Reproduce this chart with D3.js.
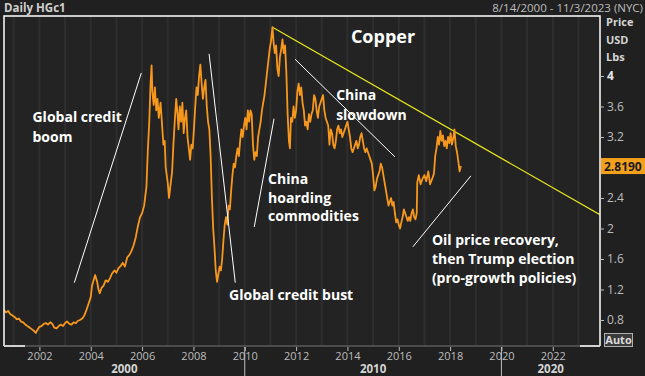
<!DOCTYPE html>
<html>
<head>
<meta charset="utf-8">
<script src="https://cdn.jsdelivr.net/npm/d3@7"></script>
<style>
  html, body { margin: 0; padding: 0; background: #202020; }
  svg { display: block; }
</style>
</head>
<body>
<svg id="chart"></svg>
<script>
// Copper front-month, decimal year -> USD / lb
const years = [
  2000.62, 2000.70, 2000.78, 2000.86, 2000.95, 2001.03, 2001.12, 2001.20, 2001.28, 2001.37,
  2001.45, 2001.53, 2001.62, 2001.70, 2001.78, 2001.86, 2001.92, 2002.00, 2002.08, 2002.17,
  2002.25, 2002.33, 2002.42, 2002.50, 2002.58, 2002.67, 2002.75, 2002.83, 2002.92, 2003.00,
  2003.08, 2003.17, 2003.25, 2003.33, 2003.42, 2003.50, 2003.58, 2003.67, 2003.75, 2003.83,
  2003.92, 2004.00, 2004.05, 2004.12, 2004.17, 2004.25, 2004.30, 2004.35, 2004.42, 2004.50,
  2004.58, 2004.67, 2004.75, 2004.83, 2004.92, 2005.00, 2005.08, 2005.17, 2005.25, 2005.33,
  2005.42, 2005.50, 2005.58, 2005.67, 2005.75, 2005.83, 2005.92, 2006.00, 2006.08, 2006.17,
  2006.22, 2006.28, 2006.33, 2006.37, 2006.40, 2006.45, 2006.50, 2006.55, 2006.60, 2006.65,
  2006.72, 2006.78, 2006.83, 2006.88, 2006.92, 2007.00, 2007.05, 2007.10, 2007.17, 2007.22,
  2007.28, 2007.33, 2007.38, 2007.42, 2007.47, 2007.52, 2007.57, 2007.62, 2007.67, 2007.72,
  2007.77, 2007.82, 2007.87, 2007.92, 2007.97, 2008.02, 2008.07, 2008.12, 2008.17, 2008.22,
  2008.27, 2008.32, 2008.37, 2008.42, 2008.47, 2008.52, 2008.57, 2008.62, 2008.67, 2008.72,
  2008.77, 2008.82, 2008.87, 2008.92, 2008.97, 2009.02, 2009.07, 2009.12, 2009.17, 2009.22,
  2009.27, 2009.32, 2009.37, 2009.42, 2009.47, 2009.52, 2009.57, 2009.62, 2009.67, 2009.72,
  2009.77, 2009.82, 2009.87, 2009.92, 2009.97, 2010.02, 2010.07, 2010.12, 2010.17, 2010.22,
  2010.27, 2010.32, 2010.37, 2010.42, 2010.47, 2010.52, 2010.57, 2010.62, 2010.67, 2010.72,
  2010.77, 2010.82, 2010.87, 2010.92, 2010.97, 2011.02, 2011.08, 2011.12, 2011.17, 2011.22,
  2011.27, 2011.32, 2011.37, 2011.42, 2011.47, 2011.52, 2011.57, 2011.62, 2011.67, 2011.72,
  2011.76, 2011.80, 2011.85, 2011.90, 2011.95, 2012.00, 2012.05, 2012.10, 2012.15, 2012.20,
  2012.25, 2012.30, 2012.35, 2012.40, 2012.45, 2012.50, 2012.55, 2012.60, 2012.65, 2012.70,
  2012.75, 2012.80, 2012.85, 2012.90, 2012.95, 2013.00, 2013.05, 2013.10, 2013.15, 2013.20,
  2013.25, 2013.30, 2013.35, 2013.40, 2013.45, 2013.50, 2013.55, 2013.60, 2013.65, 2013.70,
  2013.75, 2013.80, 2013.85, 2013.90, 2013.95, 2014.00, 2014.05, 2014.10, 2014.15, 2014.20,
  2014.25, 2014.30, 2014.35, 2014.40, 2014.45, 2014.50, 2014.55, 2014.60, 2014.65, 2014.70,
  2014.75, 2014.80, 2014.85, 2014.90, 2014.95, 2015.00, 2015.05, 2015.10, 2015.15, 2015.20,
  2015.25, 2015.30, 2015.35, 2015.40, 2015.45, 2015.50, 2015.55, 2015.60, 2015.65, 2015.70,
  2015.75, 2015.80, 2015.85, 2015.90, 2015.95, 2016.00, 2016.05, 2016.10, 2016.15, 2016.20,
  2016.25, 2016.30, 2016.35, 2016.40, 2016.45, 2016.50, 2016.55, 2016.60, 2016.65, 2016.70,
  2016.72, 2016.78, 2016.85, 2016.92, 2017.00, 2017.07, 2017.15, 2017.22, 2017.30, 2017.37,
  2017.42, 2017.47, 2017.52, 2017.57, 2017.62, 2017.67, 2017.72, 2017.77, 2017.82, 2017.87,
  2017.92, 2017.97, 2018.02, 2018.07, 2018.12, 2018.17, 2018.22, 2018.27, 2018.32, 2018.37,
  2018.42
];
const prices = [
  0.93, 0.90, 0.92, 0.88, 0.86, 0.84, 0.81, 0.82, 0.78, 0.77,
  0.74, 0.72, 0.70, 0.68, 0.66, 0.63, 0.67, 0.71, 0.72, 0.75,
  0.76, 0.74, 0.77, 0.75, 0.70, 0.69, 0.72, 0.74, 0.72, 0.76,
  0.78, 0.75, 0.74, 0.77, 0.76, 0.79, 0.80, 0.82, 0.86, 0.93,
  1.02, 1.10, 1.25, 1.33, 1.39, 1.30, 1.20, 1.15, 1.22, 1.25,
  1.32, 1.30, 1.35, 1.41, 1.45, 1.42, 1.48, 1.51, 1.55, 1.50,
  1.62, 1.65, 1.70, 1.78, 1.88, 2.02, 2.15, 2.20, 2.30, 2.55,
  3.00, 3.40, 3.90, 4.14, 3.80, 3.62, 3.85, 3.55, 3.70, 3.45,
  3.65, 3.35, 3.10, 3.15, 2.80, 2.60, 2.40, 2.55, 2.75, 3.10,
  3.45, 3.70, 3.50, 3.30, 3.60, 3.40, 3.65, 3.25, 3.45, 3.55,
  3.20, 3.05, 2.90, 3.10, 3.05, 3.30, 3.60, 3.85, 3.75, 4.00,
  4.15, 3.90, 3.70, 3.85, 3.95, 3.60, 3.40, 3.30, 2.95, 2.40,
  2.00, 1.75, 1.45, 1.30, 1.40, 1.50, 1.45, 1.60, 1.85, 2.05,
  2.15, 2.05, 2.30, 2.25, 2.50, 2.70, 2.85, 2.80, 2.95, 3.05,
  2.95, 3.15, 3.30, 3.20, 3.35, 3.45, 3.30, 3.55, 3.40, 3.55,
  3.50, 3.10, 2.90, 3.00, 2.95, 3.20, 3.30, 3.40, 3.55, 3.65,
  3.75, 3.90, 4.05, 4.20, 4.35, 4.45, 4.64, 4.45, 4.30, 4.40,
  4.10, 4.00, 4.25, 4.35, 4.48, 4.30, 4.40, 4.05, 3.50, 3.15,
  3.05, 3.45, 3.40, 3.60, 3.45, 3.55, 3.80, 3.90, 3.75, 3.85,
  3.65, 3.55, 3.35, 3.40, 3.30, 3.50, 3.40, 3.50, 3.55, 3.75,
  3.70, 3.55, 3.45, 3.60, 3.65, 3.70, 3.75, 3.55, 3.45, 3.40,
  3.35, 3.10, 3.30, 3.25, 3.10, 3.05, 3.15, 3.30, 3.35, 3.25,
  3.30, 3.20, 3.25, 3.30, 3.35, 3.40, 3.30, 3.20, 3.05, 3.00,
  3.05, 3.10, 3.15, 3.05, 3.10, 3.20, 3.25, 3.15, 3.05, 3.00,
  3.05, 3.00, 2.95, 2.90, 2.85, 2.70, 2.50, 2.55, 2.65, 2.70,
  2.75, 2.85, 2.80, 2.70, 2.60, 2.50, 2.40, 2.30, 2.35, 2.40,
  2.30, 2.35, 2.20, 2.08, 2.12, 2.05, 2.00, 2.08, 2.15, 2.25,
  2.20, 2.15, 2.10, 2.15, 2.10, 2.20, 2.25, 2.15, 2.12, 2.20,
  2.60, 2.70, 2.58, 2.65, 2.70, 2.62, 2.75, 2.58, 2.65, 2.72,
  2.95, 3.05, 3.20, 3.10, 3.28, 3.15, 3.22, 3.08, 3.15, 3.05,
  3.20, 3.12, 3.25, 3.10, 3.18, 3.30, 3.08, 3.00, 2.88, 2.75,
  2.82
];
const lastPrice = '2.8190';

// Axis ticks
const priceTicks = [0.8, 1.2, 1.6, 2, 2.4, 3.2, 3.6, 4];
const yearTicks = [2002, 2004, 2006, 2008, 2010, 2012, 2014, 2016, 2018, 2020, 2022];
const gridYears = d3.range(2001, 2024);
const decades = [
  { label: '2000', from: 2000.62, to: 2010 },
  { label: '2010', from: 2010, to: 2020 },
  { label: '2020', from: 2020, to: 2023.84 }
];

// Resistance line (yellow)
const trendYears = [2011.08, 2023.84];
const trendPrices = [4.64, 2.18];

// Annotation pointers (white), in year / price
const pointers = [
  [[2003.36, 1.29], [2005.97, 4.04]],
  [[2008.61, 4.29], [2009.63, 1.29]],
  [[2010.37, 2.02], [2011.14, 3.44]],
  [[2011.96, 4.22], [2015.85, 2.94]],
  [[2016.55, 1.76], [2018.81, 2.69]]
];
const notes = [
  { lines: ['Global credit', 'boom'], year: 2001.73, price: 3.40, gap: 20 },
  { lines: ['Global credit bust'], year: 2009.39, price: 1.06, gap: 19 },
  { lines: ['China', 'hoarding', 'commodities'], year: 2010.91, price: 2.58, gap: 18.5 },
  { lines: ['China', 'slowdown'], year: 2013.56, price: 3.68, gap: 20 },
  { lines: ['Oil price recovery,', 'then Trump election', '(pro-growth policies)'], year: 2017.29, price: 1.78, gap: 19 }
];

const width = 645, height = 376;
const plot = { left: 4, right: 600, top: 16, bottom: 346 };

const svg = d3.select('#chart')
  .attr('width', width)
  .attr('height', height)
  .style('font-family', '"Open Sans", sans-serif');

svg.append('rect')
  .attr('width', width)
  .attr('height', height)
  .attr('fill', '#202020');

const x = d3.scaleLinear().domain([2000.62, 2023.84]).range([plot.left, plot.right]);
const y = d3.scaleLinear().domain([0.8, 4]).range([320, 76]);

// Plot background + yearly grid
svg.append('rect')
  .attr('x', plot.left)
  .attr('y', plot.top)
  .attr('width', plot.right - plot.left)
  .attr('height', plot.bottom - plot.top)
  .attr('fill', '#232323');

svg.append('g')
  .selectAll('line')
  .data(gridYears)
  .join('line')
  .attr('x1', d => x(d))
  .attr('x2', d => x(d))
  .attr('y1', plot.top)
  .attr('y2', plot.bottom)
  .attr('stroke', '#2e2e2e')
  .attr('stroke-width', 2);

// Header
svg.append('text')
  .attr('x', 4).attr('y', 12)
  .attr('font-size', '11.5px').attr('font-weight', 'bold')
  .attr('fill', '#cfcfcf')
  .text('Daily HGc1');

svg.append('text')
  .attr('x', 643).attr('y', 12)
  .attr('text-anchor', 'end')
  .attr('font-size', '11.5px')
  .attr('fill', '#bdbdbd')
  .text('8/14/2000 - 11/3/2023 (NYC)');

// Clip for plot content
svg.append('clipPath').attr('id', 'clip')
  .append('rect')
  .attr('x', plot.left).attr('y', plot.top)
  .attr('width', plot.right - plot.left)
  .attr('height', plot.bottom - plot.top);

const content = svg.append('g').attr('clip-path', 'url(#clip)');

// Trend line
const trend = trendYears.map((t, i) => [t, trendPrices[i]]);
content.append('path')
  .datum(trend)
  .attr('d', d3.line().x(d => x(d[0])).y(d => y(d[1])))
  .attr('fill', 'none')
  .attr('stroke', '#e8e81a')
  .attr('stroke-width', 1.2);

// Price line
const series = years.map((t, i) => [t, prices[i]]);
content.append('path')
  .datum(series)
  .attr('d', d3.line().x(d => x(d[0])).y(d => y(d[1])))
  .attr('fill', 'none')
  .attr('stroke', '#f7981d')
  .attr('stroke-width', 1.8)
  .attr('stroke-linejoin', 'round');

// Annotation pointers
content.append('g')
  .selectAll('line')
  .data(pointers)
  .join('line')
  .attr('x1', d => x(d[0][0]))
  .attr('y1', d => y(d[0][1]))
  .attr('x2', d => x(d[1][0]))
  .attr('y2', d => y(d[1][1]))
  .attr('stroke', '#ffffff')
  .attr('stroke-width', 1);

// Annotation texts
notes.forEach(n => {
  const t = content.append('text')
    .attr('x', x(n.year))
    .attr('y', y(n.price))
    .attr('font-size', '14px')
    .attr('font-weight', 'bold')
    .attr('fill', '#ffffff');
  n.lines.forEach((line, i) => {
    t.append('tspan')
      .attr('x', x(n.year))
      .attr('dy', i === 0 ? 0 : n.gap)
      .text(line);
  });
});

content.append('text')
  .attr('x', 383).attr('y', 43)
  .attr('text-anchor', 'middle')
  .attr('font-size', '18px')
  .attr('font-weight', 'bold')
  .attr('fill', '#ffffff')
  .text('Copper');

// Frame
const frame = svg.append('g').attr('fill', 'none').attr('stroke-width', 1.5);
frame.append('path')
  .attr('d', `M${plot.left},${plot.bottom}V${plot.top}H${plot.right}V${plot.bottom}`)
  .attr('stroke', '#ffffff');
frame.append('line')
  .attr('x1', plot.left).attr('x2', plot.right)
  .attr('y1', plot.bottom).attr('y2', plot.bottom)
  .attr('stroke', '#5a5a5a');
frame.append('line')
  .attr('x1', plot.left).attr('x2', plot.left + 21)
  .attr('y1', plot.bottom).attr('y2', plot.bottom)
  .attr('stroke', '#ffffff');
frame.append('line')
  .attr('x1', plot.right - 20).attr('x2', plot.right)
  .attr('y1', plot.bottom).attr('y2', plot.bottom)
  .attr('stroke', '#ffffff');

// Right price axis
const yAxis = svg.append('g')
  .attr('transform', `translate(${plot.right},0)`)
  .call(d3.axisRight(y).tickValues(priceTicks).tickSize(4).tickPadding(3)
    .tickFormat(d => String(d)));
yAxis.select('.domain').remove();
yAxis.selectAll('line').attr('stroke', '#bdbdbd');
yAxis.selectAll('text')
  .attr('fill', d => d === 4 ? '#e6e6e6' : '#bdbdbd')
  .attr('font-weight', d => d === 4 ? 'bold' : 'normal')
  .attr('font-size', '12px')
  .attr('font-family', '"Open Sans", sans-serif');

['Price', 'USD', 'Lbs'].forEach((s, i) => {
  svg.append('text')
    .attr('x', 606).attr('y', 26 + i * 17.5)
    .attr('font-size', '11px').attr('font-weight', 'bold')
    .attr('fill', '#d4d4d4')
    .text(s);
});

// Last price badge
const badgeY = y(+lastPrice);
svg.append('rect')
  .attr('x', plot.right + 1).attr('y', badgeY - 8)
  .attr('width', width - plot.right - 1).attr('height', 16)
  .attr('fill', '#f5a01c');
svg.append('text')
  .attr('x', 604).attr('y', badgeY + 4.5)
  .attr('font-size', '12px').attr('font-weight', 'bold')
  .attr('fill', '#1a1a1a')
  .text(lastPrice);

// Auto box
svg.append('rect')
  .attr('x', 604.5).attr('y', 333.5)
  .attr('width', 28).attr('height', 13)
  .attr('fill', '#3a3a3a')
  .attr('stroke', '#b0b0b0');
svg.append('text')
  .attr('x', 618.5).attr('y', 344)
  .attr('text-anchor', 'middle')
  .attr('font-size', '11px').attr('font-weight', 'bold')
  .attr('fill', '#dcdcdc')
  .text('Auto');

// Bottom time axis
const xAxis = svg.append('g')
  .attr('transform', `translate(0,${plot.bottom + 1})`)
  .call(d3.axisBottom(x).tickValues(yearTicks).tickSize(4).tickPadding(1)
    .tickFormat(d3.format('d')));
xAxis.select('.domain').remove();
xAxis.selectAll('line').attr('stroke', '#bdbdbd');
xAxis.selectAll('text')
  .attr('fill', '#bdbdbd')
  .attr('font-size', '11px')
  .attr('font-family', '"Open Sans", sans-serif');

svg.append('g')
  .selectAll('line')
  .data(decades.slice(1))
  .join('line')
  .attr('x1', d => x(d.from)).attr('x2', d => x(d.from))
  .attr('y1', plot.bottom + 1).attr('y2', height)
  .attr('stroke', '#bdbdbd')
  .attr('stroke-width', 1);

svg.append('g')
  .selectAll('text')
  .data(decades)
  .join('text')
  .attr('x', d => (x(d.from) + x(d.to)) / 2)
  .attr('y', 372.5)
  .attr('text-anchor', 'middle')
  .attr('font-size', '11.5px')
  .attr('font-weight', 'bold')
  .attr('fill', '#d4d4d4')
  .text(d => d.label);
</script>
</body>
</html>
